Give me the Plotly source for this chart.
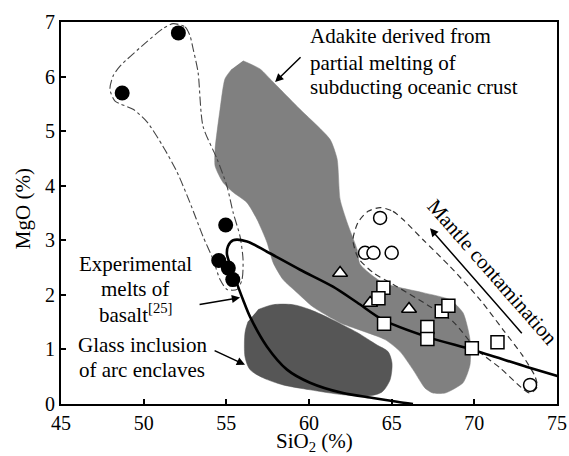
import plotly.graph_objects as go

# ---- data ----
# filled circles
fc_x = [48.7, 52.1, 54.96, 54.54, 55.12, 55.39]
fc_y = [5.70, 6.80, 3.28, 2.63, 2.49, 2.28]
# open circles
oc_x = [64.30, 63.39, 63.90, 65.00, 73.37]
oc_y = [3.41, 2.77, 2.77, 2.77, 0.35]
# open squares
sq_x = [64.50, 64.20, 64.54, 67.16, 67.16, 68.03, 68.43, 69.85, 71.40]
sq_y = [2.13, 1.94, 1.47, 1.41, 1.19, 1.70, 1.80, 1.02, 1.13]
# open triangles
tr_x = [61.88, 63.70, 66.05]
tr_y = [2.40, 1.85, 1.74]

# adakite field (light grey)
ad_x = [56.01, 57.04, 57.83, 59.46, 61.27, 61.70, 61.88, 62.30, 62.91, 63.09, 64.48, 66.90,
        68.53, 69.32, 69.74, 69.74, 69.32, 68.23, 67.50, 67.02, 66.29, 65.51, 64.60, 61.88,
        60.24, 59.28, 58.43, 57.83, 57.46, 56.86, 56.25, 55.41, 54.80, 54.32, 54.32, 54.62,
        54.92, 55.34]
ad_y = [6.29, 6.14, 5.90, 5.40, 4.85, 4.49, 3.75, 3.33, 2.83, 2.56, 2.22, 2.04,
        1.91, 1.67, 1.18, 0.72, 0.39, 0.20, 0.20, 0.29, 0.63, 0.96, 1.18, 1.49,
        1.78, 2.04, 2.28, 2.59, 2.96, 3.38, 3.69, 3.88, 4.06, 4.36, 4.67, 5.40,
        5.96, 6.14]
# glass inclusion field (dark grey)
gl_x = [56.92, 57.83, 59.04, 60.06, 61.45, 62.91, 64.12, 64.78, 65.02, 64.90, 64.42, 63.69,
        62.06, 60.06, 58.43, 57.22, 56.43, 56.13, 56.13, 56.31]
gl_y = [1.73, 1.82, 1.82, 1.73, 1.54, 1.31, 1.08, 0.96, 0.75, 0.44, 0.22, 0.15,
        0.17, 0.26, 0.35, 0.48, 0.63, 0.86, 1.31, 1.51]
# experimental melts of basalt curve
cv_x = [66.29, 65.33, 63.87, 62.06, 60.06, 58.67, 57.46, 56.43, 56.01, 55.71, 55.34, 55.04,
        55.10, 55.41, 56.25, 57.46, 59.46, 61.45, 62.91, 64.48, 67.14, 69.92, 73.19, 75.07]
cv_y = [0.00, 0.04, 0.11, 0.20, 0.39, 0.63, 1.05, 1.60, 1.91, 2.15, 2.46, 2.74,
        2.89, 3.00, 2.98, 2.79, 2.46, 2.15, 1.86, 1.54, 1.23, 0.99, 0.68, 0.51]
# dash-dot envelope around filled circles
e1_x = [51.78, 52.50, 52.80, 52.99, 53.29, 53.59, 54.44, 55.04, 55.41, 55.83, 56.01, 55.95,
        55.65, 55.04, 54.62, 54.20, 53.59, 52.80, 52.02, 51.17, 50.20, 49.36, 48.27, 47.96,
        48.15, 48.57, 50.20, 51.17, 51.78]
e1_y = [6.97, 6.91, 6.75, 6.51, 6.08, 5.09, 4.49, 3.99, 3.51, 3.07, 2.65, 2.28,
        2.10, 2.10, 2.28, 2.65, 3.07, 3.69, 4.25, 4.72, 5.17, 5.40, 5.55, 5.77,
        6.01, 6.19, 6.64, 6.88, 6.97]
# dashed envelope around open circles
e2_x = [64.30, 65.08, 65.69, 66.90, 68.53, 70.35, 71.74, 72.89, 73.68, 73.80, 73.37, 72.89,
        71.56, 70.17, 68.71, 67.14, 65.33, 63.87, 62.97, 62.66, 62.97, 63.57, 64.30]
e2_y = [3.60, 3.53, 3.38, 3.01, 2.52, 1.91, 1.36, 0.90, 0.50, 0.31, 0.20, 0.29,
        0.66, 0.99, 1.51, 1.82, 2.15, 2.41, 2.68, 3.01, 3.33, 3.53, 3.60]

x_ticks = [45, 50, 55, 60, 65, 70, 75]
y_ticks = [0, 1, 2, 3, 4, 5, 6, 7]

FONT = "Liberation Serif, Times New Roman, serif"

fig = go.Figure()
fig.add_trace(go.Scatter(x=ad_x, y=ad_y, mode="lines", fill="toself", fillcolor="#808080",
                         line=dict(color="#808080", width=0.5, shape="spline", smoothing=0.6),
                         hoverinfo="skip"))
fig.add_trace(go.Scatter(x=gl_x, y=gl_y, mode="lines", fill="toself", fillcolor="#565656",
                         line=dict(color="#565656", width=0.5, shape="spline", smoothing=0.8),
                         hoverinfo="skip"))
fig.add_trace(go.Scatter(x=e1_x, y=e1_y, mode="lines",
                         line=dict(color="#444", width=1.1, dash="dashdot", shape="spline", smoothing=0.7)))
fig.add_trace(go.Scatter(x=e2_x, y=e2_y, mode="lines",
                         line=dict(color="#333", width=1.2, dash="6px,4px", shape="spline", smoothing=0.7)))
fig.add_trace(go.Scatter(x=cv_x, y=cv_y, mode="lines",
                         line=dict(color="black", width=2.6, shape="spline", smoothing=0.8)))
fig.add_trace(go.Scatter(x=fc_x, y=fc_y, mode="markers",
                         marker=dict(symbol="circle", size=15, color="black")))
fig.add_trace(go.Scatter(x=oc_x, y=oc_y, mode="markers",
                         marker=dict(symbol="circle", size=13, color="white",
                                     line=dict(color="black", width=1.5))))
fig.add_trace(go.Scatter(x=tr_x, y=tr_y, mode="markers",
                         marker=dict(symbol="triangle-up", size=13, color="white",
                                     line=dict(color="black", width=1.5))))
fig.add_trace(go.Scatter(x=sq_x, y=sq_y, mode="markers",
                         marker=dict(symbol="square", size=13, color="white",
                                     line=dict(color="black", width=1.5))))

ann = []
def txt(x, y, s, xanchor="center", size=21, angle=0):
    ann.append(dict(x=x, y=y, xref="x", yref="y", text=s, showarrow=False,
                    xanchor=xanchor, yanchor="middle", textangle=angle,
                    font=dict(family=FONT, size=size, color="black")))

def arrow(hx, hy, tx, ty):
    ann.append(dict(x=hx, y=hy, ax=tx, ay=ty, xref="x", yref="y", axref="x", ayref="y",
                    text="", showarrow=True, arrowhead=2, arrowsize=1.1, arrowwidth=1.5,
                    arrowcolor="black"))

txt(59.95, 6.74, "Adakite derived from", "left")
txt(59.95, 6.25, "partial melting of", "left")
txt(59.95, 5.81, "subducting oceanic crust", "left")
txt(49.48, 2.56, "Experimental")
txt(49.48, 2.10, "melts of")
txt(49.48, 1.65, "basalt<sup>[25]</sup>")
txt(49.90, 1.08, "Glass inclusion")
txt(49.90, 0.63, "of arc enclaves")
txt(71.1, 2.42, "Mantle contamination", angle=48.8)

arrow(57.95, 5.90, 59.58, 6.38)
arrow(55.83, 1.95, 53.29, 1.82)
arrow(56.13, 0.72, 54.20, 0.99)
arrow(67.32, 3.22, 72.95, 1.27)

ann.append(dict(x=0.512, y=0, xref="paper", yref="paper", yshift=-38, text="SiO<sub>2</sub> (%)",
                showarrow=False, xanchor="center", yanchor="middle",
                font=dict(family=FONT, size=21, color="black")))
ann.append(dict(x=0, y=0.51, xref="paper", yref="paper", xshift=-38, text="MgO (%)", textangle=-90,
                showarrow=False, xanchor="center", yanchor="middle",
                font=dict(family=FONT, size=21, color="black")))

axis_common = dict(showgrid=False, zeroline=False, showline=True, linecolor="black", linewidth=2,
                   mirror=True, ticks="inside", ticklen=5, tickwidth=1.5, tickcolor="black",
                   automargin=False,
                   tickfont=dict(family=FONT, size=20, color="black"))
fig.update_layout(
    width=569, height=456, margin=dict(l=61, r=12, t=22, b=52, autoexpand=False),
    paper_bgcolor="white", plot_bgcolor="white", showlegend=False,
    xaxis=dict(range=[45, 75], tickvals=x_ticks, **axis_common),
    yaxis=dict(range=[0, 7], tickvals=y_ticks, **axis_common),
    annotations=ann,
)
fig.write_html("out.html")
